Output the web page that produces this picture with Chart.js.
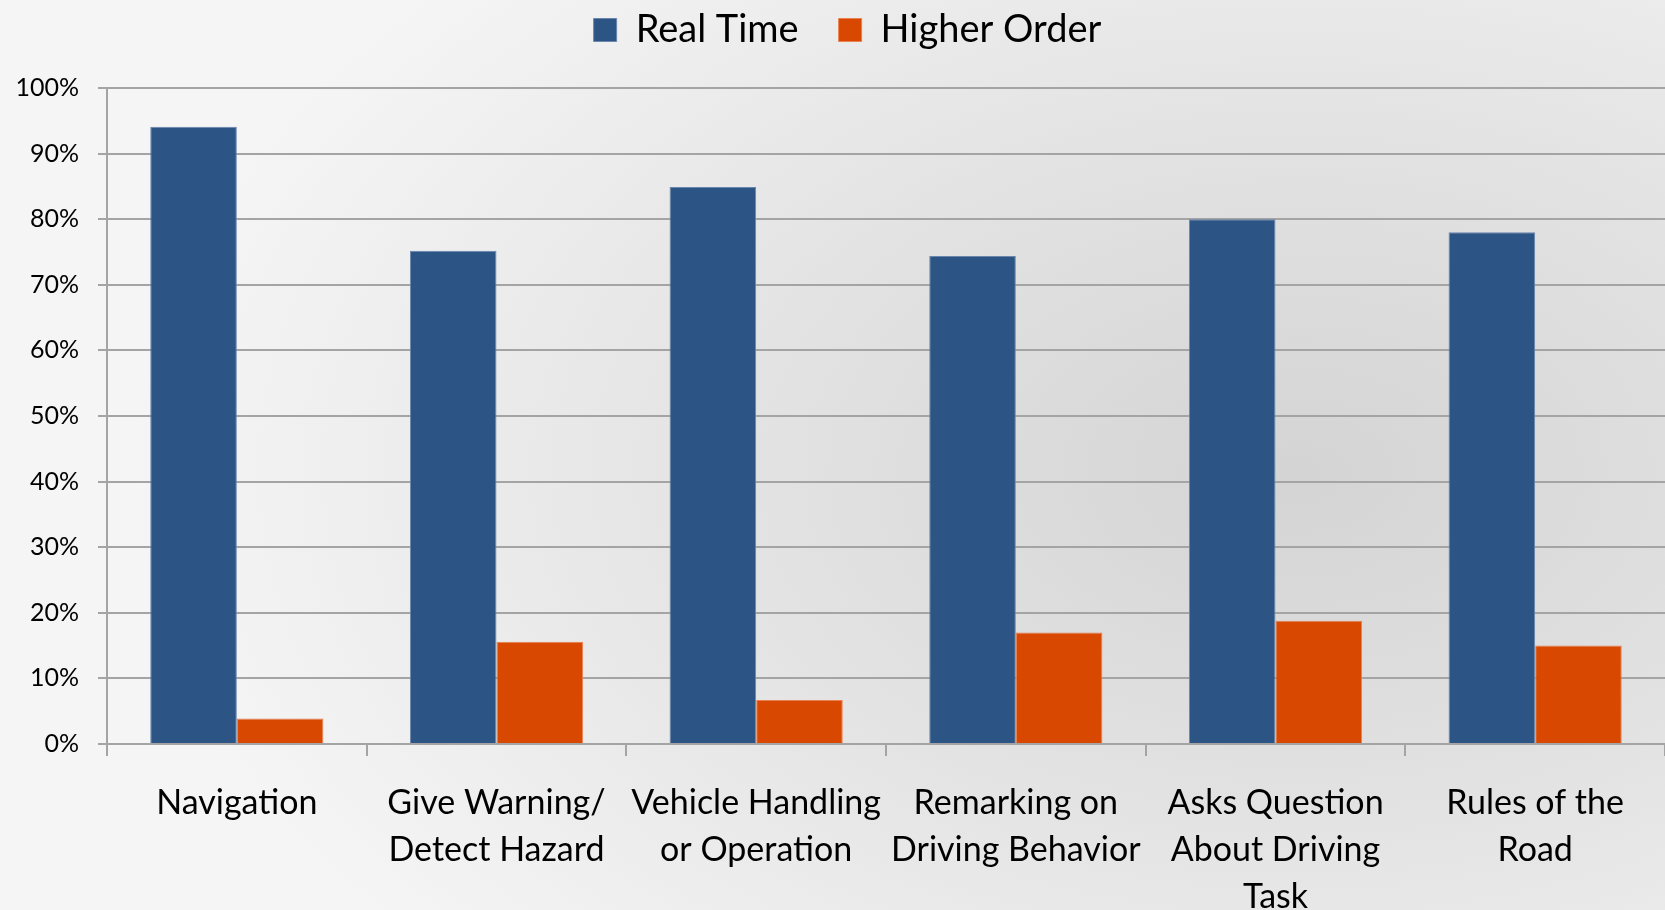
<!DOCTYPE html>
<html>
<head>
<meta charset="utf-8">
<script src="https://cdn.jsdelivr.net/npm/chart.js@4"></script>
<style>
    html, body {
        margin: 0;
        padding: 0;
    }
    body {
        width: 1665px;
        height: 910px;
        overflow: hidden;
        background: radial-gradient(ellipse 70% 80% at 78% 52%, #d4d4d4 0%, #e2e2e2 45%, #f0f0f0 85%, #f5f5f5 100%);
    }
    #wrap {
        width: 1665px;
        height: 910px;
    }
</style>
</head>
<body>
<div id="wrap"><canvas id="driveChart" width="1665" height="910"></canvas></div>
<script>
// Categories (split into lines the way they wrap under the axis)
const categories = [
    ['Navigation'],
    ['Give Warning/', 'Detect Hazard'],
    ['Vehicle Handling', 'or Operation'],
    ['Remarking on', 'Driving Behavior'],
    ['Asks Question', 'About Driving', 'Task'],
    ['Rules of the', 'Road']
];

// Percent of utterances per category
const realTime = [94.1, 75.2, 84.9, 74.4, 80.0, 78.0];
const higherOrder = [3.9, 15.6, 6.7, 17.0, 18.8, 15.0];

// y axis: 0% .. 100% by 10
const yMin = 0;
const yMax = 100;
const yStep = 10;

const gridGray = '#a4a4a4';
const fontFamily = 'Lato, "Open Sans", sans-serif';

// force the legend box height so the plot area starts where it should,
// and nudge it a little to the right like the original
const legendPlace = {
    id: 'legendPlace',
    beforeInit(chart) {
        const fit = chart.legend.fit;
        chart.legend.fit = function () {
            fit.bind(chart.legend)();
            this.height = 117;
        };
    },
    afterLayout(chart) {
        chart.legend.left += 15;
        chart.legend.right += 15;
    }
};

const ctx = document.getElementById('driveChart').getContext('2d');
const driveChart = new Chart(ctx, {
    type: 'bar',
    data: {
        labels: categories,
        datasets: [{
            label: 'Real Time',
            data: realTime,
            backgroundColor: '#2c5586',
            borderColor: '#6a86ad',
            borderWidth: 1,
            categoryPercentage: 0.667,
            barPercentage: 1.0
        }, {
            label: 'Higher Order',
            data: higherOrder,
            backgroundColor: '#d94800',
            borderColor: '#e8804f',
            borderWidth: 1,
            categoryPercentage: 0.667,
            barPercentage: 1.0
        }]
    },
    options: {
        responsive: false,
        animation: false,
        layout: {
            padding: { top: -29, left: 0, right: 0, bottom: 0 }
        },
        plugins: {
            legend: {
                position: 'top',
                labels: {
                    boxWidth: 23,
                    boxHeight: 23,
                    padding: 40,
                    color: '#000',
                    font: { family: fontFamily, size: 38 }
                }
            },
            tooltip: { enabled: false }
        },
        scales: {
            x: {
                afterFit(scale) {
                    scale.height = 166;
                },
                grid: {
                    offset: true,
                    drawOnChartArea: false,
                    drawTicks: true,
                    tickLength: 12,
                    color: gridGray,
                    lineWidth: 2
                },
                border: { display: true, color: gridGray, width: 2 },
                ticks: {
                    color: '#000',
                    maxRotation: 0,
                    autoSkip: false,
                    padding: 24,
                    font: { family: fontFamily, size: 34, lineHeight: 1.38 }
                }
            },
            y: {
                min: yMin,
                max: yMax,
                afterFit(scale) {
                    scale.width = 107;
                },
                grid: {
                    color: gridGray,
                    lineWidth: 2,
                    drawTicks: true,
                    tickLength: 9
                },
                border: { display: true, color: gridGray, width: 2 },
                ticks: {
                    stepSize: yStep,
                    color: '#000',
                    padding: 19,
                    font: { family: fontFamily, size: 25 },
                    callback: (v) => v + '%'
                }
            }
        }
    },
    plugins: [legendPlace]
});
</script>
</body>
</html>
